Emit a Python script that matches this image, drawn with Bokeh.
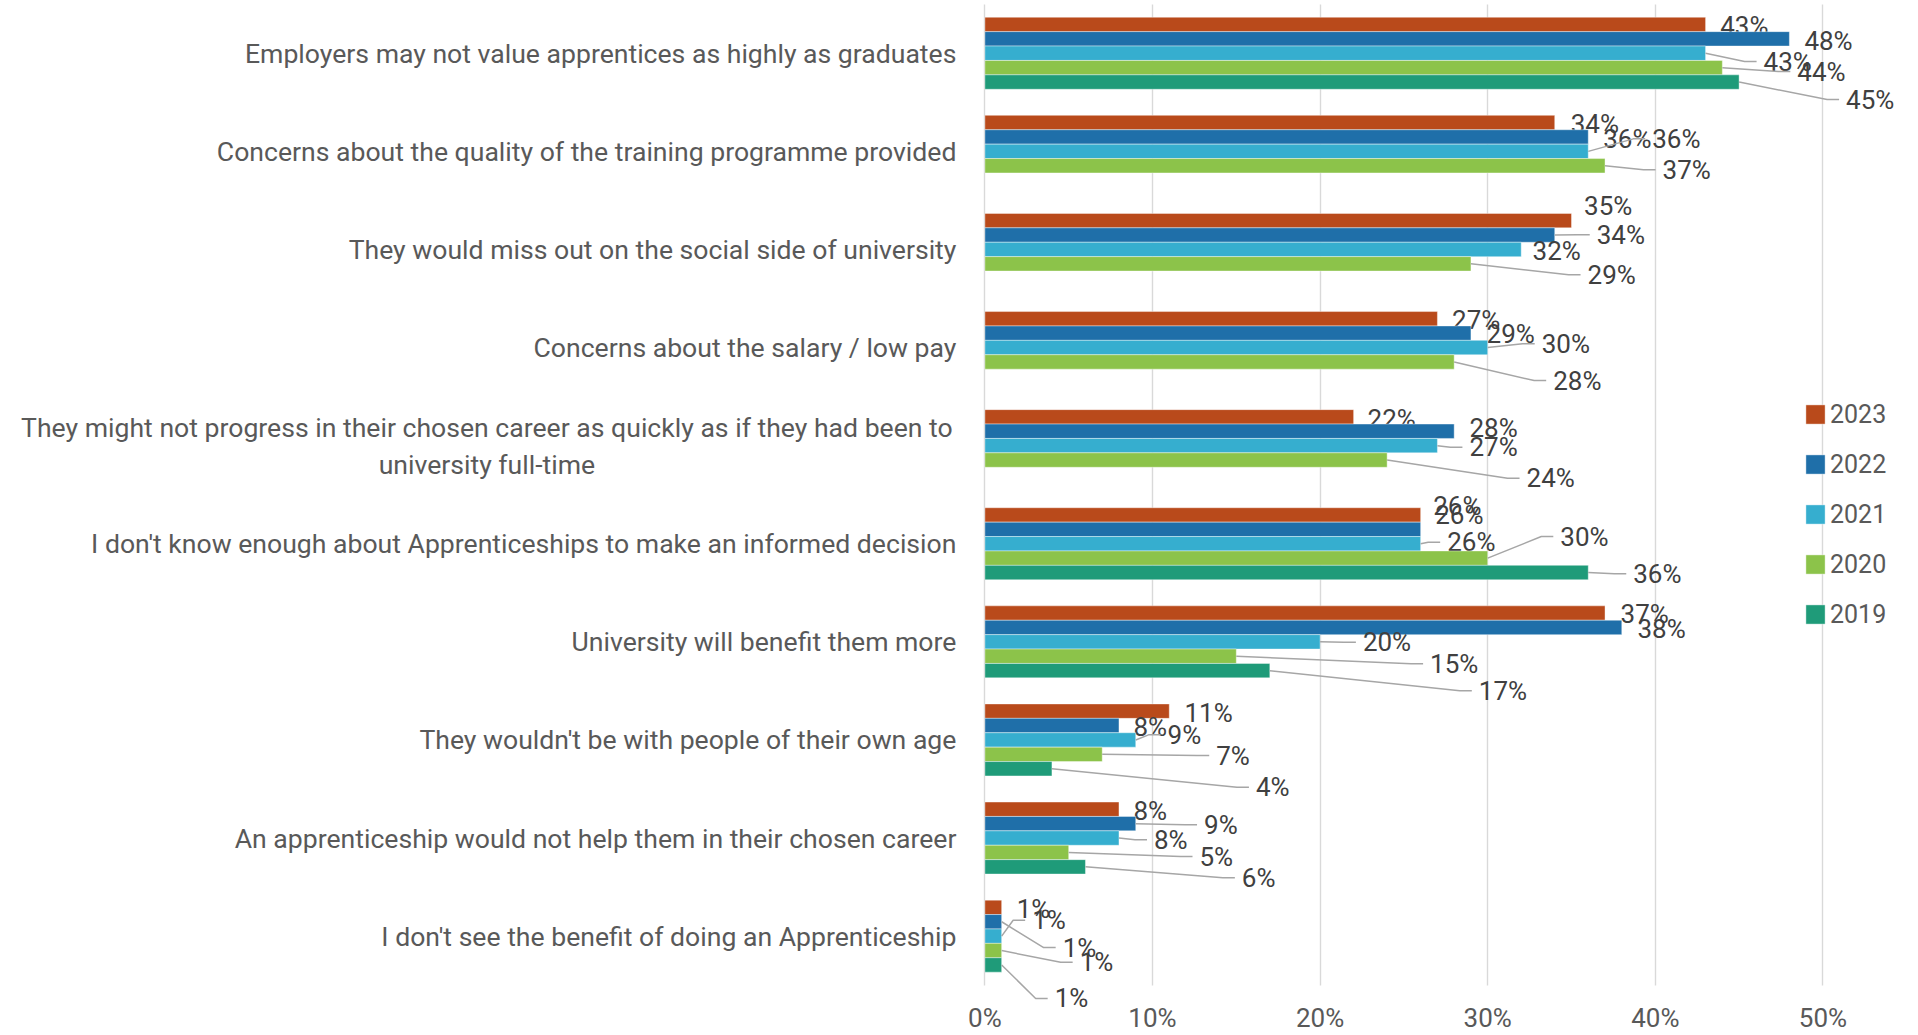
from bokeh.plotting import figure
from bokeh.models import (Range1d, FixedTicker, PrintfTickFormatter, ColumnDataSource,
                          Legend, LegendItem)
from bokeh.core.properties import value
from bokeh.embed import file_html
from bokeh.resources import INLINE

# ---------------- data ----------------
categories = [
    "Employers may not value apprentices as highly as graduates",
    "Concerns about the quality of the training programme provided",
    "They would miss out on the social side of university",
    "Concerns about the salary / low pay",
    "They might not progress in their chosen career as quickly as if they had been to\nuniversity full-time",
    "I don't know enough about Apprenticeships to make an informed decision",
    "University will benefit them more",
    "They wouldn't be with people of their own age",
    "An apprenticeship would not help them in their chosen career",
    "I don't see the benefit of doing an Apprenticeship",
]
years = ["2023", "2022", "2021", "2020", "2019"]
v2023 = [43, 34, 35, 27, 22, 26, 37, 11, 8, 1]
v2022 = [48, 36, 34, 29, 28, 26, 38, 8, 9, 1]
v2021 = [43, 36, 32, 30, 27, 26, 20, 9, 8, 1]
v2020 = [44, 37, 29, 28, 24, 30, 15, 7, 5, 1]
v2019 = [45, None, None, None, None, 36, 17, 4, 6, 1]
x_ticks = [0, 10, 20, 30, 40, 50]

# ---------------- styles / label layout (screen px) ----------------
colors = ["#B94A1B", "#1F6FA9", "#36AECF", "#8CC34A", "#1F9B79"]

dx2023 = [15.6, 17, 13.6, 15.7, 15, 13.5, 16.5, 16.2, 15.5, 16]
dy2023 = [1.1, 1.3, -14.4, 1.1, 2, -9.4, 0.5, 2.1, 2, 1.5]
ld2023 = [0, 0, 0, 0, 0, 0, 0, 0, 0, 0]

dx2022 = [16, 16, 43, 16.6, 16.3, 15.5, 16.7, 15.5, 69.3, 62]
dy2022 = [1.7, 2, -0.2, 0.7, -3, -14.8, 1.4, 1, 1.2, 25.8]
ld2022 = [0, 0, 1, 0, 0, 0, 0, 0, 1, 1]

dx2021 = [59, 65, 12.3, 55, 33, 27.5, 43.8, 32.8, 36, 31.5]
dy2021 = [8.3, -12.5, 1.8, -3.7, 1.6, -1.5, 0.4, -5.1, 1.8, -15.9]
ld2021 = [1, 1, 0, 1, 1, 1, 1, 1, 1, 1]

dx2020 = [76, 58.5, 117.6, 100, 140.4, 73.6, 194.8, 115, 131.8, 79]
dy2020 = [3.9, 4.1, 11, 18.6, 18.2, -21.6, 7.6, 1.2, 4.1, 11.7]
ld2020 = [1, 1, 1, 1, 1, 1, 1, 1, 1, 1]

dx2019 = [108, 0, 0, 0, 0, 46, 210, 205, 157.4, 54]
dy2019 = [17.5, 0, 0, 0, 0, 1.3, 20, 18.5, 11, 33.5]
ld2019 = [1, 0, 0, 0, 0, 1, 1, 1, 1, 1]

series = [v2023, v2022, v2021, v2020, v2019]
lab_dx = [dx2023, dx2022, dx2021, dx2020, dx2019]
lab_dy = [dy2023, dy2022, dy2021, dy2020, dy2019]
lab_ld = [ld2023, ld2022, ld2021, ld2020, ld2019]

FONT = "Roboto"
FRAME_W = 1910
FRAME_H = 1008
ZERO_PX = 984.4      # screen x of the 0% line inside the frame
PX_PER_PCT = 16.76
BAND_PX = 98.1
TOP_PAD_PX = 3.7     # gap between frame top and first category band
BAR_PX = 14.4
N = len(categories)
bar_h = BAR_PX / BAND_PX
x_start = -ZERO_PX / PX_PER_PCT
x_end = x_start + FRAME_W / PX_PER_PCT
y_top = -0.5 - TOP_PAD_PX / BAND_PX
y_bottom = y_top + FRAME_H / BAND_PX

p = figure(frame_width=FRAME_W, frame_height=FRAME_H,
           x_range=Range1d(x_start, x_end), y_range=Range1d(y_bottom, y_top),
           output_backend="svg", toolbar_location=None, min_border=0,
           y_axis_location=None)
p.outline_line_color = None
p.background_fill_color = "white"

# grid / axis
p.xgrid.ticker = FixedTicker(ticks=x_ticks)
p.xgrid.grid_line_color = "#D9D9D9"
p.xgrid.grid_line_width = 1.4
try:
    p.xgrid.cross_bounds = (-0.5, N - 0.5)
except Exception:
    pass
p.ygrid.grid_line_color = None
p.xaxis.ticker = FixedTicker(ticks=x_ticks)
p.xaxis.formatter = PrintfTickFormatter(format="%d%%")
p.xaxis.axis_line_color = None
p.xaxis.major_tick_line_color = None
p.xaxis.minor_tick_line_color = None
p.xaxis.major_tick_out = 0
p.xaxis.major_tick_in = 0
p.xaxis.minor_tick_out = 0
p.xaxis.major_label_text_font = FONT
p.xaxis.major_label_text_font_size = "26px"
p.xaxis.major_label_text_color = "#595959"
p.xaxis.major_label_standoff = -6

legend_items = []
for j, (yr, vals, col) in enumerate(zip(years, series, colors)):
    ys, xs, labs, dxs, dys = [], [], [], [], []
    lxs, lys = [], []
    for i, v in enumerate(vals):
        if v is None:
            continue
        y = i + (j - 2) * bar_h
        ys.append(y)
        xs.append(v)
        labs.append(f"{v}%")
        dx = lab_dx[j][i]
        dy = lab_dy[j][i]
        dxs.append(dx - 1)
        dys.append(dy)
        if lab_ld[j][i]:
            ly = y + dy / BAND_PX
            lxs.append([v, v + (dx - 20) / PX_PER_PCT, v + (dx - 8) / PX_PER_PCT])
            lys.append([y, ly, ly])
    src = ColumnDataSource(dict(y=ys, v=xs, lab=labs, dx=dxs, dy=dys))
    r = p.hbar(y="y", left=0, right="v", height=bar_h, source=src,
               fill_color=col, line_color="white", line_alpha=0.5, line_width=0.8)
    legend_items.append(LegendItem(label=yr, renderers=[r]))
    if lxs:
        p.multi_line(xs=lxs, ys=lys, line_color="#A6A6A6", line_width=1.5)
    p.text(x="v", y="y", text="lab", x_offset="dx", y_offset="dy", source=src,
           text_font=value(FONT), text_font_size="26px", text_color="#404040",
           text_align="left", text_baseline="middle")

# category labels
single = [(i, c) for i, c in enumerate(categories) if "\n" not in c]
multi = [(i, c) for i, c in enumerate(categories) if "\n" in c]
p.text(x=[0] * len(single), y=[i for i, _ in single], text=[c for _, c in single],
       x_offset=-28.5, text_font=value(FONT), text_font_size="26.6px",
       text_color="#595959", text_align="right", text_baseline="middle")
p.text(x=[0] * len(multi), y=[i for i, _ in multi], text=[c for _, c in multi],
       x_offset=-498, text_font=value(FONT), text_font_size="26.6px",
       text_color="#595959", text_align="center", text_baseline="middle",
       text_line_height=1.2)

legend = Legend(items=legend_items, location=(1803, 379), orientation="vertical",
                glyph_width=24, glyph_height=24, label_height=30, spacing=20,
                label_standoff=3, padding=0, margin=0,
                label_text_font=FONT, label_text_font_size="25px",
                label_text_color="#595959", border_line_color=None,
                background_fill_alpha=0)
p.add_layout(legend)

open("out.html", "w").write(file_html(p, INLINE))
